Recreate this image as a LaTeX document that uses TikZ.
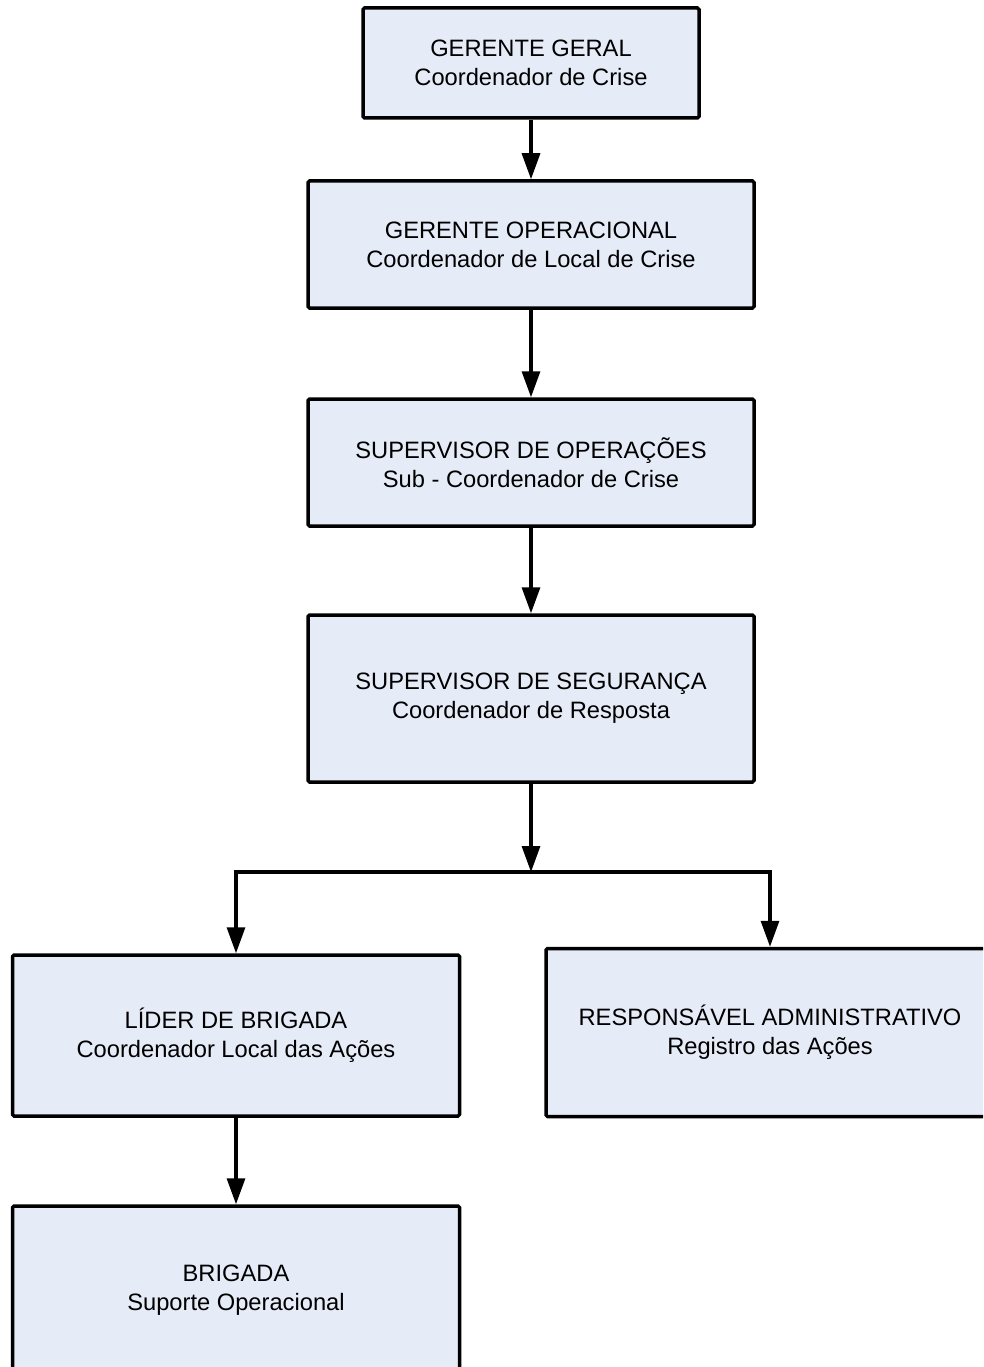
\documentclass[tikz,border=0pt]{standalone}
\usepackage{fontspec}
\setmainfont{Liberation Sans}
\usetikzlibrary{arrows.meta}
\definecolor{boxfill}{RGB}{230,236,247}
\begin{document}
\begin{tikzpicture}[x=1pt,y=-1pt,
  box/.style={draw=black, line width=3.5pt, fill=boxfill, rounded corners=1.5pt,
    align=center, font=\fontsize{23.7}{28.7}\selectfont, inner sep=0pt},
  conn/.style={line width=3.2pt, -{Triangle[length=26pt,width=18pt]}}]
\clip (0,0) rectangle (983,1367);
\node[box, minimum width=336pt, minimum height=110pt] (b1) at (531,63)
  {GERENTE GERAL\\Coordenador de Crise};
\node[box, minimum width=446pt, minimum height=127pt] (b2) at (531,244.5)
  {GERENTE OPERACIONAL\\Coordenador de Local de Crise};
\node[box, minimum width=446pt, minimum height=127pt] (b3) at (531,462.5)
  {SUPERVISOR DE OPERAÇÕES\\Sub - Coordenador de Crise};
\node[box, minimum width=446pt, minimum height=167pt] (b4) at (531,698.5)
  {SUPERVISOR DE SEGURANÇA\\Coordenador de Resposta};
\node[box, minimum width=447pt, minimum height=161pt] (b5) at (236,1035.5)
  {LÍDER DE BRIGADA\\Coordenador Local das Ações};
\node[box, minimum width=448pt, minimum height=168pt] (b6) at (770,1032.5)
  {RESPONSÁVEL ADMINISTRATIVO\\Registro das Ações};
\node[box, minimum width=447pt, minimum height=168pt] (b7) at (236,1290)
  {BRIGADA\\Suporte Operacional};
\coordinate (j) at (531,872);
\draw[conn] (b1.south) -- (b2.north);
\draw[conn] (b2.south) -- (b3.north);
\draw[conn] (b3.south) -- (b4.north);
\draw[conn] (b4.south) -- (j);
\draw[conn] (j) -| (b5.north);
\draw[conn] (j) -| (b6.north);
\draw[conn] (b5.south) -- (b7.north);
\end{tikzpicture}
\end{document}
